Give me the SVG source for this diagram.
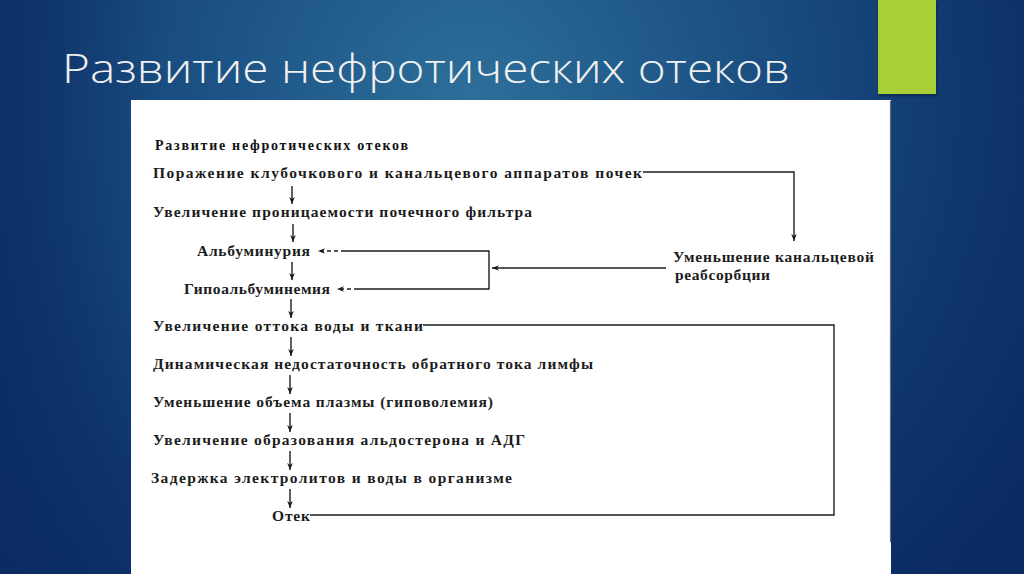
<svg xmlns="http://www.w3.org/2000/svg" width="1024" height="574" viewBox="0 0 1024 574">
  <defs>
    <radialGradient id="bg" cx="470" cy="100" r="680" gradientUnits="userSpaceOnUse">
      <stop offset="0" stop-color="#2d6f9a"/>
      <stop offset="0.35" stop-color="#1d5486"/>
      <stop offset="0.75" stop-color="#0f366d"/>
      <stop offset="1" stop-color="#0a2a62"/>
    </radialGradient>
    <linearGradient id="leftShade" x1="0" y1="0" x2="1" y2="0">
      <stop offset="0" stop-color="#0a2a62" stop-opacity="0.6"/>
      <stop offset="1" stop-color="#0a2a62" stop-opacity="0"/>
    </linearGradient>
    <marker id="ah" viewBox="0 0 10 10" refX="10" refY="5" markerWidth="7" markerHeight="7" markerUnits="userSpaceOnUse" orient="auto">
      <path d="M0,1 L10,5 L0,9 L3,5 Z" fill="#1a1a1a"/>
    </marker>
    <filter id="shadow" x="-20%" y="-20%" width="140%" height="140%">
      <feDropShadow dx="1" dy="2" stdDeviation="1.5" flood-color="#000" flood-opacity="0.35"/>
    </filter>
  </defs>
  <style>
    .t { font-family: "Liberation Serif", "DejaVu Serif", serif; font-size: 15.5px; font-weight: bold; fill: #1c1c1c; }
    .h { font-family: "Liberation Serif", "DejaVu Serif", serif; font-size: 14px; font-weight: bold; fill: #111; }
    .title { font-family: "Open Sans", "Noto Sans", "Liberation Sans", sans-serif; font-size: 40px; font-weight: 300; fill: #f0f0f0; }
    .c { fill: none; stroke: #1e1e1e; stroke-width: 1.4; }
    .d { fill: none; stroke: #1e1e1e; stroke-width: 1.3; stroke-dasharray: 4 3; }
  </style>

  <!-- slide background -->
  <rect x="0" y="0" width="1024" height="574" fill="url(#bg)"/>
  <rect x="0" y="0" width="160" height="574" fill="url(#leftShade)"/>
  <rect x="878" y="0" width="58" height="94" fill="#a9cf38" filter="url(#shadow)"/>

  <text class="title" x="62" y="83" textLength="728" lengthAdjust="spacingAndGlyphs">Развитие нефротических отеков</text>

  <!-- white panel -->
  <rect x="131" y="100" width="760" height="474" fill="#ffffff"/>
  <line x1="890.5" y1="101" x2="890.5" y2="542" stroke="#6a6a78" stroke-width="1.2"/>

  <!-- nodes -->
  <g id="n-header"><text class="h" x="155" y="150" textLength="253" lengthAdjust="spacing">Развитие нефротических отеков</text></g>
  <g id="n-porazhenie"><text class="t" x="153" y="178" textLength="489" lengthAdjust="spacing">Поражение клубочкового и канальцевого аппаратов почек</text></g>
  <g id="n-pronic"><text class="t" x="153" y="217" textLength="379" lengthAdjust="spacing">Увеличение проницаемости почечного фильтра</text></g>
  <g id="n-albuminuria"><text class="t" x="197" y="256" textLength="113" lengthAdjust="spacing">Альбуминурия</text></g>
  <g id="n-hypoalb"><text class="t" x="184" y="294" textLength="146" lengthAdjust="spacing">Гипоальбуминемия</text></g>
  <g id="n-reabs">
    <text class="t" x="673" y="262" textLength="201" lengthAdjust="spacing">Уменьшение канальцевой</text>
    <text class="t" x="675" y="280" textLength="95" lengthAdjust="spacing">реабсорбции</text>
  </g>
  <g id="n-ottok"><text class="t" x="153" y="331" textLength="270" lengthAdjust="spacing">Увеличение оттока воды и ткани</text></g>
  <g id="n-limf"><text class="t" x="153" y="369" textLength="440" lengthAdjust="spacing">Динамическая недостаточность обратного тока лимфы</text></g>
  <g id="n-plazma"><text class="t" x="153" y="407" textLength="340" lengthAdjust="spacing">Уменьшение объема плазмы (гиповолемия)</text></g>
  <g id="n-aldo"><text class="t" x="153" y="445" textLength="372" lengthAdjust="spacing">Увеличение образования альдостерона и АДГ</text></g>
  <g id="n-zaderzhka"><text class="t" x="151" y="483" textLength="361" lengthAdjust="spacing">Задержка электролитов и воды в организме</text></g>
  <g id="n-otek"><text class="t" x="272" y="521" textLength="38" lengthAdjust="spacing">Отек</text></g>

  <!-- connectors -->
  <g id="connectors">
    <!-- main vertical chain -->
    <line class="c" x1="292" y1="186" x2="292" y2="204" marker-end="url(#ah)"/>
    <line class="c" x1="293" y1="224" x2="293" y2="242" marker-end="url(#ah)"/>
    <line class="c" x1="292" y1="262" x2="292" y2="280" marker-end="url(#ah)"/>
    <line class="c" x1="291" y1="299" x2="291" y2="318" marker-end="url(#ah)"/>
    <line class="c" x1="291" y1="337" x2="291" y2="356" marker-end="url(#ah)"/>
    <line class="c" x1="290" y1="375" x2="290" y2="394" marker-end="url(#ah)"/>
    <line class="c" x1="290" y1="413" x2="290" y2="432" marker-end="url(#ah)"/>
    <line class="c" x1="290" y1="451" x2="290" y2="470" marker-end="url(#ah)"/>
    <line class="c" x1="290" y1="489" x2="290" y2="508" marker-end="url(#ah)"/>

    <!-- Поражение -> Уменьшение канальцевой реабсорбции -->
    <polyline class="c" points="643,172 794,172 794,241" marker-end="url(#ah)"/>

    <!-- Уменьшение реабсорбции -> bracket -->
    <line class="c" x1="666" y1="268" x2="492" y2="268" marker-end="url(#ah)"/>

    <!-- bracket to Альбуминурия / Гипоальбуминемия -->
    <polyline class="c" points="345,251 489,251 489,289 358,289"/>
    <line class="d" x1="345" y1="251" x2="318" y2="251" marker-end="url(#ah)"/>
    <line class="d" x1="358" y1="289" x2="337" y2="289" marker-end="url(#ah)"/>

    <!-- Увеличение оттока -> Отек loop -->
    <polyline class="c" points="423,325 834,325 834,515 310,515"/>
  </g>
</svg>
